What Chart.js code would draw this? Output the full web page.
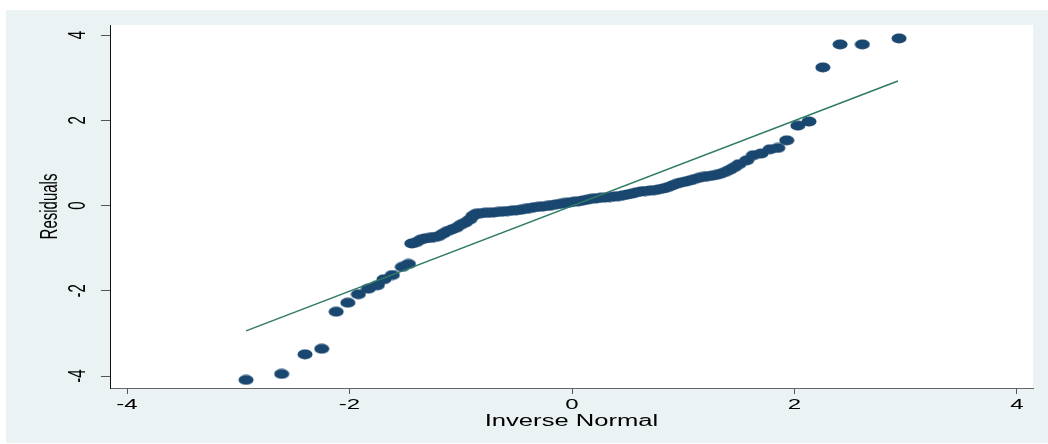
<!DOCTYPE html>
<html>
<head>
<meta charset="utf-8">
<script src="https://cdn.jsdelivr.net/npm/chart.js@4.4.1/dist/chart.umd.min.js"></script>
<style>
  html, body { margin: 0; padding: 0; background: #ffffff; }
  #wrap { position: relative; width: 1048px; height: 444px; }
</style>
</head>
<body>
<div id="wrap"><canvas id="c" width="1048" height="444"></canvas></div>
<script>
// ---- data ----
const inverseNormal = [
  -2.93, -2.61, -2.40, -2.25, -2.12, -2.015, -1.92, -1.83, -1.75, -1.69,
  -1.615, -1.525, -1.47, -1.44, -1.40, -1.36, -1.32, -1.28, -1.24, -1.20,
  -1.16, -1.12, -1.08, -1.04, -1.00, -0.96, -0.92, -0.89, -0.86, -0.82,
  -0.78, -0.74, -0.70, -0.66, -0.62, -0.58, -0.54, -0.50, -0.46, -0.42,
  -0.38, -0.34, -0.30, -0.26, -0.22, -0.18, -0.14, -0.10, -0.06, -0.02,
  0.02, 0.06, 0.10, 0.14, 0.18, 0.22, 0.26, 0.30, 0.34, 0.38,
  0.42, 0.46, 0.50, 0.54, 0.58, 0.62, 0.66, 0.70, 0.74, 0.78,
  0.82, 0.86, 0.90, 0.94, 0.98, 1.02, 1.06, 1.10, 1.14, 1.18,
  1.22, 1.26, 1.30, 1.34, 1.38, 1.42, 1.46, 1.50, 1.57, 1.63,
  1.70, 1.78, 1.85, 1.93, 2.03, 2.13, 2.255, 2.41, 2.61, 2.94
];
const residuals = [
  -4.09, -3.95, -3.49, -3.36, -2.49, -2.28, -2.08, -1.95, -1.87, -1.73,
  -1.63, -1.44, -1.37, -0.89, -0.86, -0.80, -0.77, -0.76, -0.74, -0.72,
  -0.66, -0.60, -0.56, -0.52, -0.45, -0.40, -0.33, -0.24, -0.19, -0.18,
  -0.17, -0.17, -0.16, -0.15, -0.14, -0.13, -0.12, -0.11, -0.10, -0.08,
  -0.06, -0.04, -0.03, -0.02, -0.01, 0.01, 0.03, 0.04, 0.06, 0.07,
  0.09, 0.10, 0.12, 0.14, 0.16, 0.17, 0.18, 0.19, 0.20, 0.21,
  0.22, 0.24, 0.26, 0.28, 0.31, 0.33, 0.34, 0.35, 0.36, 0.38,
  0.40, 0.43, 0.47, 0.51, 0.54, 0.56, 0.59, 0.62, 0.65, 0.67,
  0.69, 0.70, 0.72, 0.75, 0.79, 0.84, 0.90, 0.97, 1.06, 1.18,
  1.22, 1.32, 1.35, 1.53, 1.875, 1.97, 3.24, 3.78, 3.78, 3.92
];
const refLineX = [-2.93, 2.93];
const refLineY = [-2.94, 2.92];
const xTickValues = [-4, -2, 0, 2, 4];
const yTickValues = [-4, -2, 0, 2, 4];
const xTitle = 'Inverse Normal';
const yTitle = 'Residuals';

// ---- styling ----
const MARKER = '#1a476f';
const LINE = '#2f7a66';
const OUTER_BG = '#eaf2f3';
const STRETCH = 1.6;   // horizontal text stretch seen in the reference
const FONT = "'Liberation Sans', Arial, sans-serif";

// elliptical marker
const marker = document.createElement('canvas');
marker.width = 16; marker.height = 11;
(function () {
  const m = marker.getContext('2d');
  m.fillStyle = MARKER;
  m.beginPath();
  m.ellipse(8, 5.5, 7.5, 5.0, 0, 0, Math.PI * 2);
  m.fill();
})();

const bgPlugin = {
  id: 'bg',
  beforeDraw(chart) {
    const ctx = chart.ctx, a = chart.chartArea;
    ctx.save();
    ctx.fillStyle = '#ffffff';
    ctx.fillRect(0, 0, chart.width, chart.height);
    ctx.fillStyle = OUTER_BG;
    ctx.fillRect(6, 10, chart.width - 6, 433);
    ctx.fillStyle = '#ffffff';
    ctx.fillRect(a.left, a.top, a.right - a.left, a.bottom - a.top);
    ctx.restore();
    // stretch axis text horizontally, as in the reference
    const origRotate = ctx.rotate;
    ctx._origRotate = origRotate;
    ctx.rotate = function (r) {
      origRotate.call(this, r);
      if (Math.abs(r) < 1e-6) this.scale(STRETCH, 1);
      else this.scale(1, STRETCH);
    };
  },
  beforeDatasetsDraw(chart) {
    const ctx = chart.ctx;
    if (ctx._origRotate) { ctx.rotate = ctx._origRotate; delete ctx._origRotate; }
  }
};

const points = inverseNormal.map((x, i) => ({ x: x, y: residuals[i] }));
const refLine = refLineX.map((x, i) => ({ x: x, y: refLineY[i] }));

new Chart(document.getElementById('c'), {
  type: 'scatter',
  data: {
    datasets: [
      {
        type: 'line',
        data: refLine,
        borderColor: LINE,
        borderWidth: 1.5,
        pointRadius: 0,
        fill: false,
        tension: 0
      },
      {
        data: points,
        pointStyle: marker,
        pointRadius: 6,
        backgroundColor: MARKER,
        borderColor: MARKER
      }
    ]
  },
  options: {
    responsive: false,
    animation: false,
    events: [],
    layout: { padding: { left: 0, top: 25, right: 15, bottom: 0 } },
    plugins: { legend: { display: false }, tooltip: { enabled: false }, title: { display: false } },
    scales: {
      x: {
        type: 'linear',
        min: -4.153, max: 4.144,
        afterBuildTicks(s) { s.ticks = xTickValues.map(v => ({ value: v })); },
        afterFit(s) { s.height = 56; },
        grid: { display: true, drawOnChartArea: false, drawTicks: true, tickLength: 6, color: '#555555', lineWidth: 1 },
        border: { display: true, color: '#666666', width: 1 },
        ticks: {
          color: '#000000', font: { family: FONT, size: 15 }, padding: 2,
          maxRotation: 0, minRotation: 0,
          callback: v => String(v)
        },
        title: { display: true, text: xTitle, color: '#000000', font: { family: FONT, size: 16 }, padding: { top: 0, bottom: 13 } }
      },
      y: {
        type: 'linear',
        min: -4.28, max: 4.235,
        afterBuildTicks(s) { s.ticks = yTickValues.map(v => ({ value: v })); },
        afterFit(s) { s.width = 110; },
        grid: { display: true, drawOnChartArea: false, drawTicks: true, tickLength: 9, color: '#555555', lineWidth: 1 },
        border: { display: true, color: '#111111', width: 1 },
        ticks: {
          color: '#000000', font: { family: FONT, size: 15 }, padding: 16,
          minRotation: 90, maxRotation: 90, crossAlign: 'center',
          callback: v => String(v)
        },
        title: { display: true, text: yTitle, color: '#000000', font: { family: FONT, size: 15 }, padding: { top: 41, bottom: 0 } }
      }
    }
  },
  plugins: [bgPlugin]
});
</script>
</body>
</html>
